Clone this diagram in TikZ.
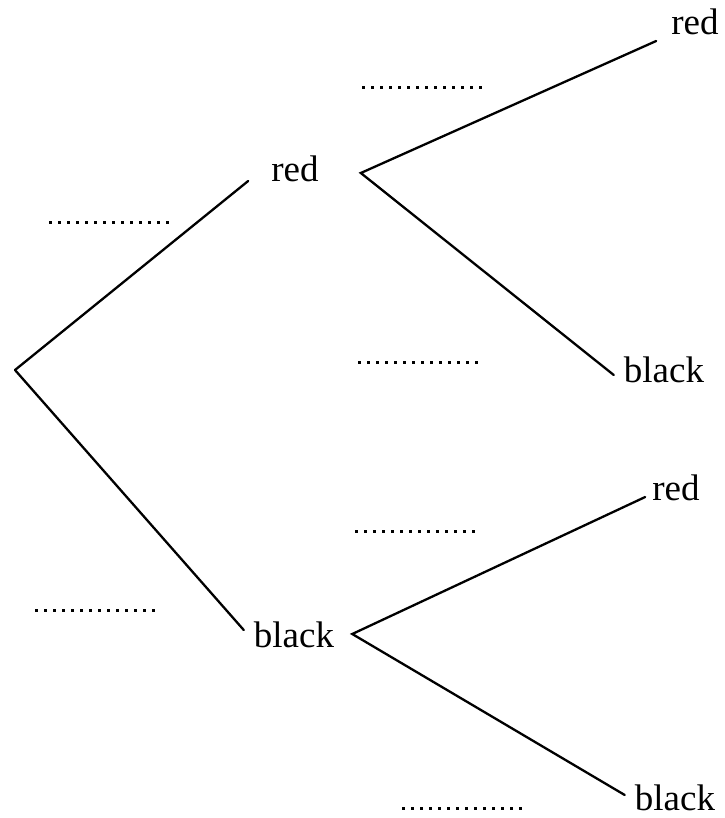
\documentclass[tikz,border=0pt]{standalone}
\usepackage{fontspec}
\setmainfont{Liberation Serif}
\begin{document}
\begin{tikzpicture}[x=1pt,y=-1pt,
  lbl/.style={inner sep=0pt,anchor=base,font=\fontsize{37}{40}\selectfont},
  branch/.style={line width=2.3pt,line cap=round},
  blank/.style={line width=3pt,dash pattern=on 3pt off 6pt}]
\useasboundingbox (0,0) rectangle (724,818);
\coordinate (root) at (15,370);
\node[lbl] (r1) at (295,182) {red};
\node[lbl] (b1) at (294,647) {black};
\node[lbl] (R1) at (695,35) {red};
\node[lbl] (B1) at (664,382) {black};
\node[lbl] (R2) at (676,500) {red};
\node[lbl] (B2) at (675,810) {black};
% branches
\draw[branch] (root) -- ([xshift=-23pt,yshift=1pt]r1.base west);
\draw[branch] (root) -- ([xshift=-10pt,yshift=17pt]b1.base west);
\draw[branch] ([xshift=-15pt,yshift=-6pt]R1.base west) -- ([xshift=42pt,yshift=9pt]r1.base east) -- ([xshift=-10pt,yshift=7pt]B1.base west);
\draw[branch] ([xshift=-7pt,yshift=3pt]R2.base west) -- ([xshift=18pt,yshift=13pt]b1.base east) -- ([xshift=-10pt,yshift=15pt]B2.base west);
% answer blanks
\draw[blank] (49,223) -- (170,223);
\draw[blank] (362,88) -- (483,88);
\draw[blank] (358,362) -- (479,362);
\draw[blank] (355,531) -- (476,531);
\draw[blank] (35,610) -- (156,610);
\draw[blank] (402,808) -- (523,808);
\end{tikzpicture}
\end{document}
